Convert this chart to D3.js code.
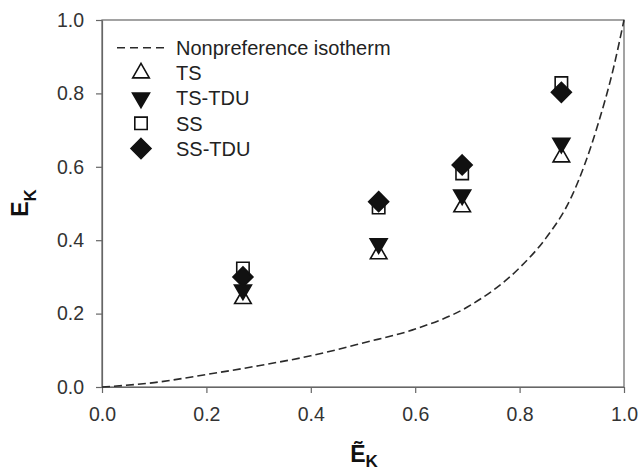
<!DOCTYPE html>
<html>
<head>
<meta charset="utf-8">
<script src="https://cdn.jsdelivr.net/npm/d3@7"></script>
<style>
  body { margin: 0; background: #fff; }
  svg { font-family: "Liberation Sans", Arial, sans-serif; }
  .axis text { font-size: 19.5px; fill: #333; }
  .axis path, .axis line { stroke: #666; stroke-width: 1.2; }
</style>
</head>
<body>
<svg id="chart"></svg>
<script>
const SVG_WIDTH = 641;
const SVG_HEIGHT = 474;

const MARGIN = { top: 20, right: 17, bottom: 87, left: 102 };
const WIDTH = SVG_WIDTH - MARGIN.left - MARGIN.right;
const HEIGHT = SVG_HEIGHT - MARGIN.top - MARGIN.bottom;

// data
const X_VALUES = [0.27, 0.53, 0.69, 0.88];
const TS = [0.241, 0.363, 0.491, 0.627];
const TS_TDU = [0.264, 0.390, 0.523, 0.664];
const SS = [0.323, 0.489, 0.582, 0.828];
const SS_TDU = [0.300, 0.505, 0.605, 0.803];

// nonpreference isotherm, read at a few points along the dashed curve
const ISO_X = [0, 0.1, 0.2, 0.3, 0.4, 0.5, 0.6, 0.7, 0.8, 0.85, 0.9, 0.95, 0.98, 1.0];
const ISO_Y = [0, 0.012, 0.034, 0.058, 0.085, 0.12, 0.158, 0.218, 0.325, 0.405, 0.52, 0.715, 0.87, 1.0];

const X_TICKS = [0, 0.2, 0.4, 0.6, 0.8, 1.0];
const Y_TICKS = [0, 0.2, 0.4, 0.6, 0.8, 1.0];

const SERIES = [
	{ name: 'TS', values: TS, shape: 'up', fill: false },
	{ name: 'TS-TDU', values: TS_TDU, shape: 'down', fill: true },
	{ name: 'SS', values: SS, shape: 'square', fill: false },
	{ name: 'SS-TDU', values: SS_TDU, shape: 'diamond', fill: true }
];

const x = d3.scaleLinear().domain([0, 1]).range([0, WIDTH]);
const y = d3.scaleLinear().domain([0, 1]).range([HEIGHT, 0]);

function markerPath(shape) {
	const p = d3.path();
	if (shape === 'up') {
		p.moveTo(0, -9.5); p.lineTo(8.3, 5); p.lineTo(-8.3, 5); p.closePath();
	} else if (shape === 'down') {
		p.moveTo(0, 9.5); p.lineTo(8.5, -5); p.lineTo(-8.5, -5); p.closePath();
	} else if (shape === 'square') {
		p.rect(-6.2, -6.2, 12.4, 12.4);
	} else {
		p.moveTo(0, -10); p.lineTo(10, 0); p.lineTo(0, 10); p.lineTo(-10, 0); p.closePath();
	}
	return p.toString();
}

const root = d3.select('#chart')
	.attr('width', SVG_WIDTH)
	.attr('height', SVG_HEIGHT);

root.append('rect')
	.attr('width', SVG_WIDTH)
	.attr('height', SVG_HEIGHT)
	.attr('fill', '#fff');

const svg = root.append('g')
	.attr('transform', 'translate(' + MARGIN.left + ', ' + MARGIN.top + ')');

// frame
svg.append('rect')
	.attr('width', WIDTH)
	.attr('height', HEIGHT)
	.attr('fill', 'none')
	.attr('stroke', '#666')
	.attr('stroke-width', 1.2);

// X-Axis
svg.append('g')
	.attr('class', 'axis')
	.attr('transform', 'translate(0, ' + HEIGHT + ')')
	.call(d3.axisBottom(x).tickValues(X_TICKS).tickSize(6).tickSizeOuter(0).tickPadding(14).tickFormat(d3.format('.1f')));

// Y-Axis
svg.append('g')
	.attr('class', 'axis')
	.call(d3.axisLeft(y).tickValues(Y_TICKS).tickSize(6).tickSizeOuter(0).tickPadding(12).tickFormat(d3.format('.1f')));

// isotherm
const isoData = ISO_X.map((v, i) => ({ x: v, y: ISO_Y[i] }));
svg.append('path')
	.attr('fill', 'none')
	.attr('stroke', '#2a2a2a')
	.attr('stroke-width', 1.6)
	.attr('stroke-dasharray', '8,4')
	.attr('d', d3.line()
		.x(d => x(d.x))
		.y(d => y(d.y))
		.curve(d3.curveMonotoneX)(isoData));

// markers
SERIES.forEach(s => {
	svg.selectAll('.pt-' + s.shape)
		.data(s.values.map((v, i) => ({ x: X_VALUES[i], y: v })))
		.enter()
		.append('path')
			.attr('class', 'pt-' + s.shape)
			.attr('transform', d => 'translate(' + x(d.x) + ', ' + y(d.y) + ')')
			.attr('d', markerPath(s.shape))
			.attr('fill', s.fill ? '#111' : 'none')
			.attr('stroke', '#111')
			.attr('stroke-width', 1.6);
});

// legend
const legend = root.append('g');
const LEGEND_Y = 47.7;
const LEGEND_STEP = 25.2;

legend.append('line')
	.attr('x1', 117).attr('x2', 164)
	.attr('y1', LEGEND_Y).attr('y2', LEGEND_Y)
	.attr('stroke', '#2a2a2a')
	.attr('stroke-width', 1.6)
	.attr('stroke-dasharray', '8,5');

legend.append('text')
	.attr('x', 176)
	.attr('y', LEGEND_Y)
	.attr('dy', '.36em')
	.style('font-size', '20px')
	.attr('fill', '#222')
	.text('Nonpreference isotherm');

SERIES.forEach((s, i) => {
	const ly = LEGEND_Y + LEGEND_STEP * (i + 1);
	legend.append('path')
		.attr('transform', 'translate(141, ' + ly + ')')
		.attr('d', markerPath(s.shape))
		.attr('fill', s.fill ? '#111' : 'none')
		.attr('stroke', '#111')
		.attr('stroke-width', 1.6);
	legend.append('text')
		.attr('x', 176)
		.attr('y', ly)
		.attr('dy', '.36em')
		.style('font-size', '20px')
		.attr('fill', '#222')
		.text(s.name);
});

// axis titles
const xTitle = root.append('text')
	.attr('x', 364)
	.attr('y', 461.7)
	.attr('text-anchor', 'middle')
	.style('font-weight', 'bold')
	.attr('fill', '#111');
xTitle.append('tspan').style('font-size', '23px').text('Ẽ');
xTitle.append('tspan').style('font-size', '17px').attr('dy', 5).text('K');

const yTitle = root.append('text')
	.attr('transform', 'translate(28.3, 203) rotate(-90)')
	.attr('text-anchor', 'middle')
	.style('font-weight', 'bold')
	.attr('fill', '#111');
yTitle.append('tspan').style('font-size', '23px').text('E');
yTitle.append('tspan').style('font-size', '17px').attr('dy', 8).text('K');
</script>
</body>
</html>
